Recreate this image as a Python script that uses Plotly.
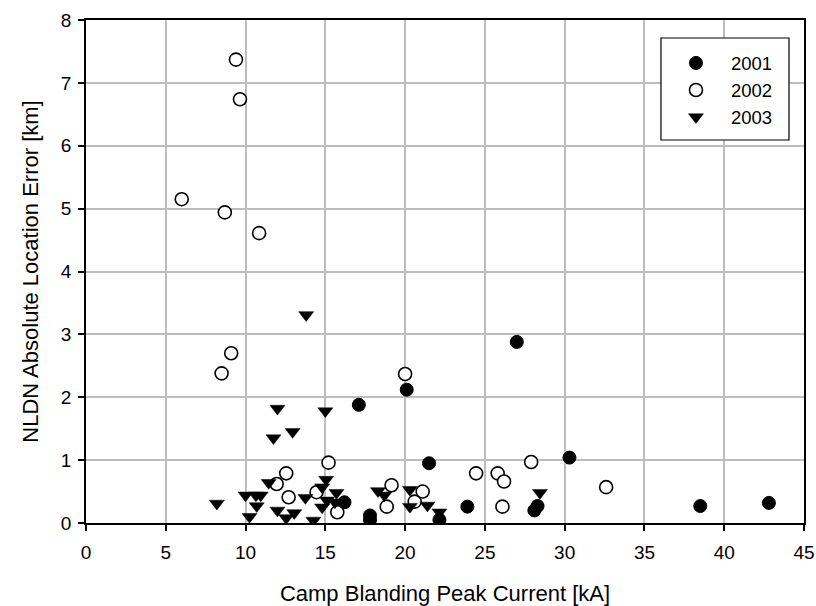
import plotly.graph_objects as go

# 2001 (filled circles)
x2001 = [16.2, 17.1, 17.8, 17.8, 20.1, 21.5, 22.15, 23.9, 27.0, 28.1, 28.3, 30.3, 38.5, 42.8]
y2001 = [0.33, 1.88, 0.12, 0.05, 2.12, 0.95, 0.05, 0.26, 2.88, 0.20, 0.27, 1.04, 0.27, 0.32]

# 2002 (open circles)
x2002 = [6.0, 8.5, 8.7, 9.1, 9.4, 9.65, 10.85, 11.95, 12.55, 12.7, 14.45, 15.2,
         15.75, 18.85, 19.15, 20.0, 20.6, 21.1, 24.45, 25.8, 26.1, 26.2, 27.9, 32.6]
y2002 = [5.15, 2.38, 4.94, 2.70, 7.37, 6.74, 4.61, 0.62, 0.79, 0.41, 0.49, 0.96,
         0.17, 0.26, 0.60, 2.37, 0.34, 0.50, 0.79, 0.79, 0.26, 0.66, 0.97, 0.57]

# 2003 (down triangles)
x2003 = [8.2, 10.0, 10.25, 10.65, 10.7, 10.95, 11.45, 11.75, 12.0, 12.0, 12.55, 12.95,
         13.05, 13.75, 13.8, 14.25, 14.8, 14.8, 15.0, 15.05, 15.1, 15.6, 15.7, 18.3,
         18.7, 20.3, 20.3, 21.4, 22.15, 28.45]
y2003 = [0.31, 0.44, 0.10, 0.44, 0.27, 0.44, 0.64, 1.35, 1.82, 0.20, 0.08, 1.45,
         0.16, 0.40, 3.31, 0.04, 0.57, 0.25, 1.78, 0.69, 0.36, 0.33, 0.48, 0.51,
         0.44, 0.53, 0.26, 0.28, 0.17, 0.48]

x_ticks = [0, 5, 10, 15, 20, 25, 30, 35, 40, 45]
y_ticks = [0, 1, 2, 3, 4, 5, 6, 7, 8]

FONT = "Liberation Sans, Arial, Helvetica, sans-serif"

fig = go.Figure()
fig.add_trace(go.Scatter(x=x2001, y=y2001, mode="markers", name="2001",
                         marker=dict(symbol="circle", size=13, color="black",
                                     line=dict(color="black", width=1))))
fig.add_trace(go.Scatter(x=x2002, y=y2002, mode="markers", name="2002",
                         marker=dict(symbol="circle", size=13, color="white",
                                     line=dict(color="black", width=1.6))))
fig.add_trace(go.Scatter(x=x2003, y=y2003, mode="markers", name="2003",
                         marker=dict(symbol="triangle-down", size=13, color="black",
                                     line=dict(color="black", width=0.5))))

axis_common = dict(showgrid=True, gridcolor="#bdbdbd", gridwidth=1.5,
                   showline=True, linecolor="black", linewidth=1.8, mirror=True,
                   ticks="outside", ticklen=6, tickwidth=1.5, tickcolor="black",
                   zeroline=False, automargin=False, ticklabeloverflow="allow",
                   tickfont=dict(family=FONT, size=19, color="black"))

fig.update_xaxes(range=[0, 45], tickvals=x_ticks, ticklabelstandoff=5, **axis_common,
                 title=dict(text="Camp Blanding Peak Current [kA]",
                            font=dict(family=FONT, size=22, color="black"), standoff=29))
fig.update_yaxes(range=[0, 8], tickvals=y_ticks, ticklabelstandoff=3, **axis_common,
                 title=dict(text="NLDN Absolute Location Error [km]",
                            font=dict(family=FONT, size=22, color="black"), standoff=16))

# legend frame (white box with black border)
fig.add_shape(type="rect", xref="paper", yref="paper",
              x0=0.8008, x1=0.9791, y0=0.7614, y1=0.9642,
              fillcolor="white", line=dict(color="black", width=1.2), layer="above")

fig.update_layout(
    width=816, height=606,
    margin=dict(l=86, r=12, t=20, b=83),
    plot_bgcolor="white", paper_bgcolor="white",
    font=dict(family=FONT, color="black"),
    legend=dict(x=0.8008, y=0.9515, xanchor="left", yanchor="top",
                bgcolor="rgba(0,0,0,0)", borderwidth=0,
                font=dict(family=FONT, size=18.5, color="black"),
                itemwidth=60),
)

fig.write_html("out.html", config={"displayModeBar": False},
               post_script="document.body.style.margin='0';")
